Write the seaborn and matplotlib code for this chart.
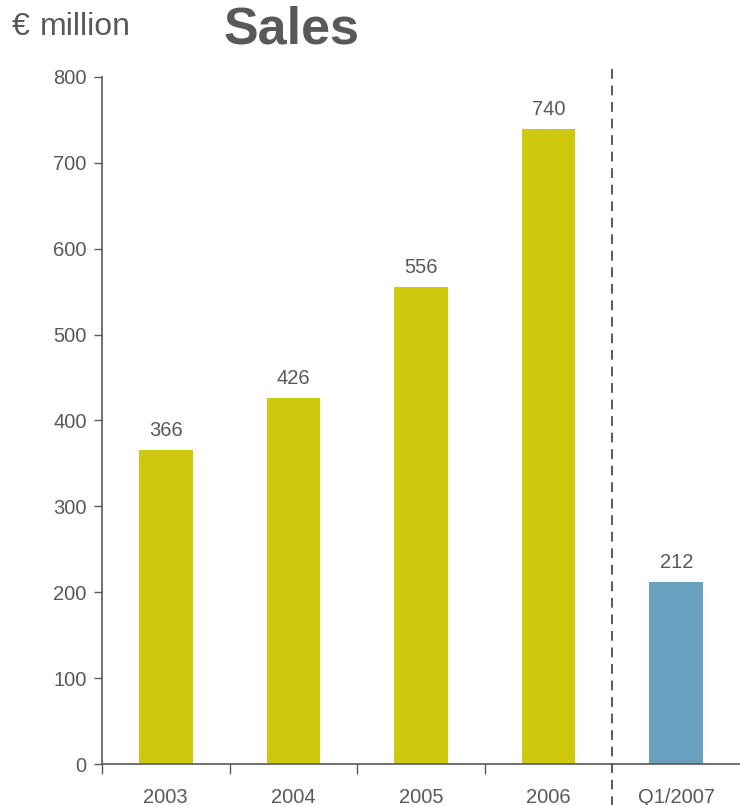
import matplotlib
matplotlib.use("Agg")
import matplotlib.pyplot as plt
import seaborn as sns
import pandas as pd

categories = ["2003", "2004", "2005", "2006", "Q1/2007"]
sales = [366, 426, 556, 740, 212]
colors = ["#CFC90E", "#CFC90E", "#CFC90E", "#CFC90E", "#67A3C1"]
y_ticks = [0, 100, 200, 300, 400, 500, 600, 700, 800]

sns.set_style("white")
plt.rcParams["font.family"] = ["Liberation Sans", "DejaVu Sans"]
gray = "#595959"

df = pd.DataFrame({"cat": categories, "sales": sales})

fig = plt.figure(figsize=(7.4, 8.05), dpi=100)
ax = fig.add_axes([102 / 740, 1 - 764 / 805, 1 - 102 / 740, (764 - 77) / 805])

sns.barplot(data=df, x="cat", y="sales", hue="cat", palette=colors,
            order=categories, legend=False, width=0.42, ax=ax, saturation=1,
            linewidth=0)

for c in ax.containers:
    ax.bar_label(c, fmt="%d", padding=7, fontsize=14.5, color=gray)

ax.set_xlim(-0.5, 4.5)
ax.set_ylim(0, 800)
ax.set_yticks(y_ticks)
ax.set_yticklabels([str(v) for v in y_ticks])
ax.set_xlabel("")
ax.set_ylabel("")

# Spines
for s in ["top", "right"]:
    ax.spines[s].set_visible(False)
for s in ["left", "bottom"]:
    ax.spines[s].set_color(gray)
    ax.spines[s].set_linewidth(1.2)

# Ticks
ax.tick_params(axis="y", direction="out", length=6, width=1, color=gray,
               labelsize=14.5, labelcolor=gray, pad=5, left=True)
ax.set_xticks(range(len(categories)))
ax.set_xticklabels(categories)
ax.tick_params(axis="x", which="major", length=0, labelsize=14.5,
               labelcolor=gray, pad=17)
ax.set_xticks([-0.5, 0.5, 1.5, 2.5], minor=True)
ax.tick_params(axis="x", which="minor", direction="out", length=7, width=1,
               color=gray, bottom=True)

# Dashed separator
trans = ax.get_xaxis_transform()
ax.plot([3.5, 3.5], [-0.07, 1.013], transform=trans, clip_on=False,
        color=gray, linestyle=(0, (5, 3.5)), linewidth=1.4)

fig.text(12 / 740, 1 - 27 / 805, "€", fontsize=23, color=gray,
         va="center", ha="left")
fig.text(40 / 740, 1 - 27 / 805, "million", fontsize=23, color=gray,
         va="center", ha="left")
fig.text(292 / 740, 1 - 30 / 805, "Sales", fontsize=37.5, color=gray,
         fontweight="bold", va="center", ha="center")

fig.savefig("out.png", dpi=100)
